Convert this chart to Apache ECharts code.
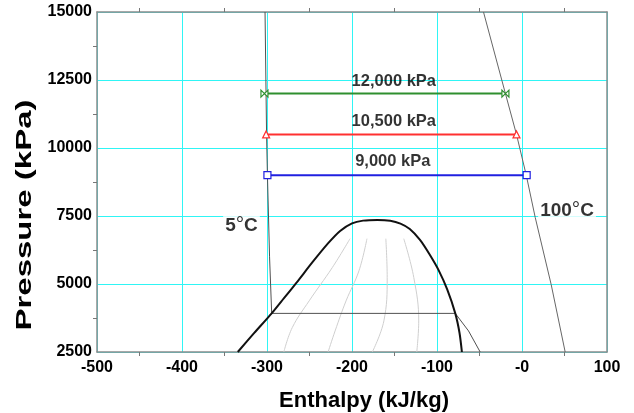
<!DOCTYPE html>
<html>
<head>
<meta charset="utf-8">
<script src="https://cdn.jsdelivr.net/npm/echarts@6/dist/echarts.min.js"></script>
<style>
  html, body { margin: 0; padding: 0; background: #fff; }
  #chart { width: 634px; height: 413px; }
</style>
</head>
<body>
<div id="chart"></div>
<script>
// CO2 pressure-enthalpy chart
const satDome = [[-334.4, 2500], [-315, 3200], [-294.5, 3920], [-280, 4480], [-265, 5060], [-246.5, 5800],
  [-228, 6500], [-214, 6950], [-200, 7230], [-187, 7330], [-170, 7355], [-155, 7325], [-143, 7220],
  [-132, 7020], [-120, 6620], [-109, 6100], [-98, 5500], [-88, 4800], [-78.5, 3920], [-73.5, 3200], [-70.7, 2500]]
const iso5 = [[-302.3, 15000], [-300.5, 10500], [-299.5, 9000], [-297, 6000], [-294.5, 3920],
  [-78.5, 3920], [-62.9, 3274], [-49.2, 2500]]
const iso100 = [[-45.3, 15000], [-19.5, 12000], [-6.5, 10500], [5, 9000], [15.6, 7441], [34.4, 4970], [50.8, 2500]]
const quality1 = [[-202.3, 6667], [-223.1, 5608], [-250.4, 4380], [-270.3, 3396], [-280.2, 2500]]
const quality2 = [[-182.4, 6667], [-191.8, 5487], [-207, 4380], [-219.9, 3274], [-228.1, 2500]]
const quality3 = [[-160.2, 6667], [-158.6, 5240], [-162.5, 3643], [-176.1, 2500]]
const quality4 = [[-139.1, 6667], [-127.3, 5240], [-121.5, 3643], [-123.8, 2500]]
const p12000 = [[-303, 12000], [-19.5, 12000]]
const p10500 = [[-301, 10500], [-6.5, 10500]]
const p9000 = [[-299.5, 9000], [5.5, 9000]]
const pressureLabels = [['12,000 kPa', -150.8, 12456], ['10,500 kPa', -150.8, 10962], ['9,000 kPa', -152, 9506]]
const tempLabels = [['5', -330, 7146], ['100', 53, 7699]]
const xLabels = ['-500', '-400', '-300', '-200', '-100', '-0', '100']

var myChart = echarts.init(document.getElementById('chart'))

const fontFam = '"Liberation Sans", Arial, sans-serif'
const tickFont = { color: '#000', fontSize: 16, fontWeight: 'bold', fontFamily: fontFam }
const grayBox = { show: true, onZero: false, lineStyle: { color: '#8c8c8c', width: 1.5 } }
const cyan = { show: true, lineStyle: { color: '#2ff5f5', width: 1 } }
const minor = { show: true, splitNumber: 2, length: 4, lineStyle: { color: '#777', width: 1 } }

function lineSeries(data, color, width, smooth) {
  return {
    type: 'line', data: data, showSymbol: false, symbol: 'none', silent: true,
    smooth: smooth, lineStyle: { color: color, width: width }, z: 3
  }
}

function pressureLine(data, color, symbol, size) {
  return {
    type: 'line', data: data, symbol: symbol, symbolSize: size, showSymbol: true, silent: true,
    lineStyle: { color: color, width: 2 },
    itemStyle: { color: '#fff', borderColor: color, borderWidth: 1.2 }, z: 5
  }
}

myChart.setOption({
  backgroundColor: '#fff',
  animation: false,
  grid: { left: 97, width: 510, top: 12, height: 340 },
  xAxis: [{
    type: 'value', min: -500, max: 100, interval: 100,
    axisLine: grayBox, axisTick: { show: false }, minorTick: minor,
    axisLabel: Object.assign({ margin: 8, formatter: v => xLabels[Math.round((v + 500) / 100)] }, tickFont),
    splitLine: cyan
  }, {
    type: 'value', min: -500, max: 100, interval: 100, position: 'top',
    axisLine: grayBox, axisTick: { show: false }, minorTick: minor,
    axisLabel: { show: false }, splitLine: { show: false }
  }],
  yAxis: [{
    type: 'value', min: 2500, max: 15000, interval: 2500,
    axisLine: grayBox, axisTick: { show: false }, minorTick: minor,
    axisLabel: Object.assign({ margin: 5, formatter: v => String(v) }, tickFont),
    splitLine: cyan
  }, {
    type: 'value', min: 2500, max: 15000, interval: 2500, position: 'right',
    axisLine: grayBox, axisTick: { show: false },
    axisLabel: { show: false }, splitLine: { show: false }
  }],
  graphic: [{
    type: 'text', x: 364, y: 401,
    style: { text: 'Enthalpy (kJ/kg)', x: 0, y: 0, align: 'center', verticalAlign: 'middle',
      font: 'bold 22px ' + fontFam, fill: '#000' }
  }, {
    type: 'text', x: 25, y: 215, rotation: Math.PI / 2, scaleX: 1.5,
    style: { text: 'Pressure (kPa)', x: 0, y: 0, align: 'center', verticalAlign: 'middle',
      font: 'bold 22px ' + fontFam, fill: '#000' }
  }],
  series: [
    lineSeries(quality1, '#cfcfcf', 1, 0.4),
    lineSeries(quality2, '#cfcfcf', 1, 0.4),
    lineSeries(quality3, '#cfcfcf', 1, 0.4),
    lineSeries(quality4, '#cfcfcf', 1, 0.4),
    lineSeries(iso5, '#505050', 1, false),
    lineSeries(iso100, '#666', 1, false),
    lineSeries(satDome, '#111', 2, 0.25),
    pressureLine(p12000, '#2f8f2f', 'path://M0,0L10,10L10,0L0,10Z', 7),
    pressureLine(p10500, '#ff3030', 'triangle', 7),
    pressureLine(p9000, '#2020e0', 'rect', 7),
    {
      type: 'scatter', symbolSize: 0, silent: true, z: 6,
      data: pressureLabels.map(d => ({ value: [d[1], d[2]], name: d[0] })),
      label: { show: true, position: 'inside', formatter: p => p.name,
        color: '#000', fontSize: 16.5, fontWeight: 'bold', fontFamily: fontFam }
    },
    {
      type: 'scatter', symbolSize: 0, silent: true, z: 6,
      data: tempLabels.map(d => ({ value: [d[1], d[2]], name: d[0] })),
      label: { show: true, position: 'inside', backgroundColor: '#fff', padding: [0, 2],
        formatter: p => '{b|' + p.name + '}{d|°}{b|C}',
        rich: {
          b: { fontSize: 19, fontWeight: 'bold', color: '#000', fontFamily: fontFam },
          d: { fontSize: 21, color: '#000', fontFamily: fontFam }
        } }
    }
  ]
})
</script>
</body>
</html>
